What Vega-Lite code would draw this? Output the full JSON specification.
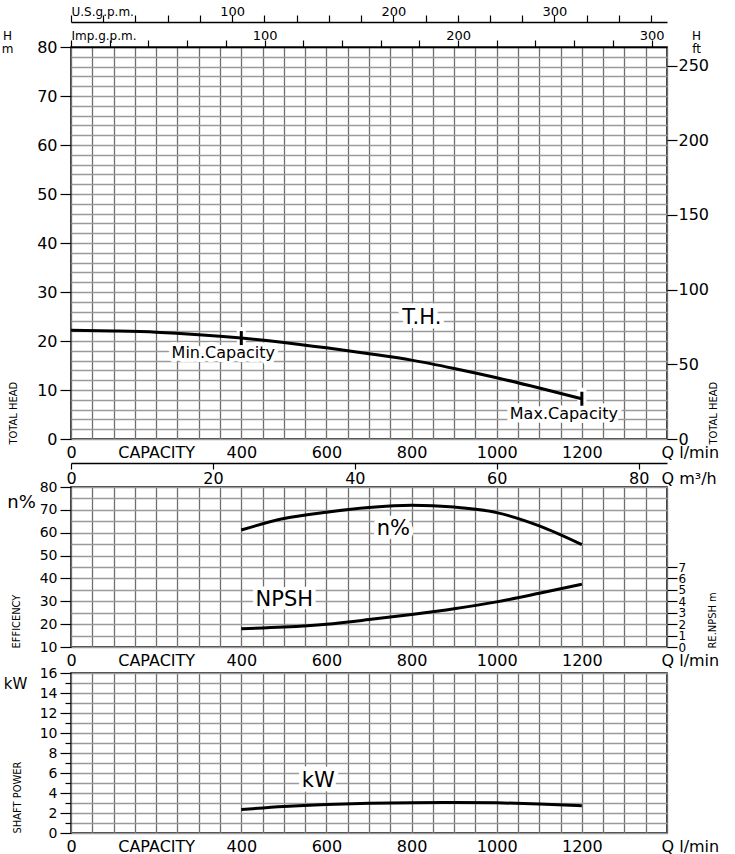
{
  "$schema": "https://vega.github.io/schema/vega-lite/v6.json",
  "padding": {"left": 0, "top": 4, "right": 0, "bottom": 0},
  "spacing": -8,
  "datasets": {
    "head": [
      {"q": 0, "h": 22.2}, {"q": 100, "h": 22.05}, {"q": 200, "h": 21.8}, {"q": 300, "h": 21.3},
      {"q": 400, "h": 20.6}, {"q": 500, "h": 19.7}, {"q": 600, "h": 18.6}, {"q": 700, "h": 17.4},
      {"q": 800, "h": 16.1}, {"q": 900, "h": 14.4}, {"q": 1000, "h": 12.5}, {"q": 1100, "h": 10.4},
      {"q": 1200, "h": 8.2}
    ],
    "perf": [
      {"q": 400, "eff": 61.2, "npsh": 1.6, "kw": 2.35},
      {"q": 500, "eff": 66.2, "npsh": 1.75, "kw": 2.65},
      {"q": 600, "eff": 69.0, "npsh": 2.0, "kw": 2.85},
      {"q": 700, "eff": 71.0, "npsh": 2.4, "kw": 2.97},
      {"q": 800, "eff": 72.0, "npsh": 2.85, "kw": 3.03},
      {"q": 900, "eff": 71.2, "npsh": 3.35, "kw": 3.06},
      {"q": 1000, "eff": 68.8, "npsh": 3.95, "kw": 3.02},
      {"q": 1100, "eff": 63.0, "npsh": 4.7, "kw": 2.9},
      {"q": 1200, "eff": 54.8, "npsh": 5.5, "kw": 2.72}
    ],
    "limits": [
      {"q": 400, "h": 20.6, "name": "Min.Capacity"},
      {"q": 1200, "h": 8.2, "name": "Max.Capacity"}
    ]
  },
  "config": {
    "view": {"stroke": "#000", "strokeWidth": 1.5},
    "font": "DejaVu Sans",
    "axis": {
      "labelFont": "DejaVu Sans", "labelFontSize": 16, "labelColor": "#000",
      "tickColor": "#000", "tickWidth": 1.2, "domainColor": "#000", "domainWidth": 1.5,
      "titleFont": "DejaVu Sans Condensed, Liberation Sans Narrow, Roboto Condensed, DejaVu Sans",
      "titleColor": "#000", "titleFontWeight": "normal", "titleFontSize": 11,
      "labelFlush": false, "labelOverlap": false, "format": "d"
    }
  },
  "vconcat": [
    {
      "width": 596, "height": 392,
      "resolve": {"axis": {"x": "independent", "y": "independent"}},
      "layer": [
        {
          "data": {"name": "head"},
          "mark": {"type": "line", "opacity": 0},
          "encoding": {
            "x": {"field": "q", "type": "quantitative", "scale": {"domain": [0, 1400], "nice": false, "zero": false},
              "axis": {"values": [0,50,100,150,200,250,300,350,400,450,500,550,600,650,700,750,800,850,900,950,1000,1050,1100,1150,1200,1250,1300,1350,1400],
                "grid": true, "gridColor": "#6e6e6e", "gridWidth": 1.3, "labels": false, "ticks": false, "domain": false, "title": null}},
            "y": {"field": "h", "type": "quantitative", "scale": {"domain": [0, 80], "nice": false, "zero": false},
              "axis": {"values": [0,2,4,6,8,10,12,14,16,18,20,22,24,26,28,30,32,34,36,38,40,42,44,46,48,50,52,54,56,58,60,62,64,66,68,70,72,74,76,78,80],
                "grid": true, "gridColor": "#9a9a9a", "gridWidth": 1.3, "labels": false, "ticks": false, "domain": false, "title": null}}
          }
        },
        {
          "data": {"name": "head"},
          "mark": {"type": "line", "opacity": 0},
          "encoding": {
            "x": {"field": "q", "type": "quantitative",
              "axis": {"orient": "bottom", "values": [0,200,400,600,800,1000,1200,1400],
                "labelExpr": "datum.value == 200 ? 'CAPACITY' : datum.value == 1400 ? 'Q  l/min' : datum.label",
                "labelAlign": {"condition": {"test": "datum.value == 1400", "value": "left"}, "value": "center"},
                "labelOffset": {"condition": {"test": "datum.value == 1400", "value": -6}, "value": 0},
                "labelPadding": 5, "ticks": false, "domain": false, "grid": false, "title": null}},
            "y": {"field": "h", "type": "quantitative",
              "axis": {"orient": "left", "values": [0,10,20,30,40,50,60,70,80], "labelPadding": 3, "ticks": true, "tickSize": 11,
                "domain": false, "grid": false, "title": "TOTAL HEAD", "titleAngle": -90, "titleAlign": "left", "titleBaseline": "middle",
                "titleX": -58, "titleY": 397}}
          }
        },
        {
          "data": {"name": "head"},
          "mark": {"type": "line", "opacity": 0},
          "encoding": {
            "x": {"field": "q", "type": "quantitative",
              "axis": {"orient": "top", "values": [0,90.922,181.844,272.765,363.687,454.609,545.531,636.453,727.374,818.296,909.218,1000.14,1091.062,1181.983,1272.905,1363.827],
                "labelExpr": "datum.value == 0 ? 'Imp.g.p.m.' : (indexof([100,200,300], round(datum.value/4.54609)) >= 0 ? format(round(datum.value/4.54609),'d') : '')",
                "labelAlign": {"condition": {"test": "datum.value == 0", "value": "left"}, "value": "center"},
                "labelFontSize": {"condition": {"test": "datum.value == 0", "value": 12}, "value": 13},
                "tickSize": 7, "labelPadding": -2, "domain": true, "grid": false, "title": null}},
            "y": {"field": "h", "type": "quantitative",
              "axis": {"orient": "right", "values": [0,15.24,30.48,45.72,60.96,76.2],
                "labelExpr": "format(datum.value*3.28084,'.0f')", "tickSize": 10, "labelPadding": 1,
                "domain": false, "grid": false, "title": "TOTAL HEAD", "titleAngle": -90, "titleAlign": "left", "titleBaseline": "middle",
                "titleX": 46, "titleY": 397}}
          }
        },
        {
          "data": {"name": "head"},
          "mark": {"type": "line", "opacity": 0},
          "encoding": {
            "x": {"field": "q", "type": "quantitative",
              "axis": {"orient": "top", "offset": 25, "values": [0,75.708,151.416,227.125,302.833,378.541,454.249,529.957,605.666,681.374,757.082,832.79,908.498,984.207,1059.915,1135.623,1211.331,1287.04,1362.748],
                "labelExpr": "datum.value == 0 ? 'U.S.g.p.m.' : (indexof([100,200,300], round(datum.value/3.78541)) >= 0 ? format(round(datum.value/3.78541),'d') : '')",
                "labelAlign": {"condition": {"test": "datum.value == 0", "value": "left"}, "value": "center"},
                "labelFontSize": {"condition": {"test": "datum.value == 0", "value": 12}, "value": 13},
                "tickSize": 7, "labelPadding": -3, "domain": true, "grid": false, "title": null}},
            "y": {"field": "h", "type": "quantitative",
              "axis": {"orient": "left", "labels": false, "ticks": false, "domain": false, "grid": false,
                "title": ["H", "m"], "titleFont": "DejaVu Sans", "titleFontSize": 12, "titleAngle": 0, "titleAlign": "center",
                "titleBaseline": "top", "titleX": -64, "titleY": -17, "titleLineHeight": 13}}
          }
        },
        {
          "data": {"name": "head"},
          "mark": {"type": "line", "opacity": 0},
          "encoding": {
            "x": {"field": "q", "type": "quantitative",
              "axis": {"orient": "bottom", "offset": 24, "values": [0,333.3333,666.6667,1000,1333.3333,1400],
                "labelExpr": "datum.value == 1400 ? 'Q  m³/h' : format(datum.value*0.06,'.0f')",
                "labelAlign": {"condition": {"test": "datum.value == 1400", "value": "left"}, "value": "center"},
                "labelOffset": {"condition": {"test": "datum.value == 1400", "value": -6}, "value": 0},
                "tickOpacity": {"condition": {"test": "datum.value == 1400", "value": 0}, "value": 1},
                "tickSize": 6, "labelPadding": 1, "domain": true, "grid": false, "title": null}},
            "y": {"field": "h", "type": "quantitative",
              "axis": {"orient": "right", "labels": false, "ticks": false, "domain": false, "grid": false,
                "title": ["H", "ft"], "titleFont": "DejaVu Sans", "titleFontSize": 12, "titleAngle": 0, "titleAlign": "center",
                "titleBaseline": "top", "titleX": 29, "titleY": -17, "titleLineHeight": 13}}
          }
        },
        {
          "data": {"name": "limits"},
          "mark": {"type": "tick", "orient": "vertical", "color": "white", "thickness": 9, "size": 22, "opacity": 1},
          "encoding": {
            "x": {"field": "q", "type": "quantitative", "axis": null},
            "y": {"field": "h", "type": "quantitative", "axis": null}
          }
        },
        {
          "data": {"name": "limits"},
          "mark": {"type": "text", "fontSize": 16, "font": "DejaVu Sans", "fill": "white", "stroke": "white", "strokeWidth": 8, "strokeJoin": "round", "dx": -18, "dy": 15},
          "encoding": {
            "x": {"field": "q", "type": "quantitative", "axis": null},
            "y": {"field": "h", "type": "quantitative", "axis": null},
            "text": {"field": "name"}
          }
        },
        {
          "data": {"values": [{"q": 824, "h": 24.7, "t": "T.H."}]},
          "mark": {"type": "text", "fontSize": 21, "font": "DejaVu Sans", "fill": "white", "stroke": "white", "strokeWidth": 9, "strokeJoin": "round"},
          "encoding": {
            "x": {"field": "q", "type": "quantitative", "axis": null},
            "y": {"field": "h", "type": "quantitative", "axis": null},
            "text": {"field": "t"}
          }
        },
        {
          "data": {"name": "head"},
          "mark": {"type": "line", "color": "#000", "strokeWidth": 3, "interpolate": "monotone"},
          "encoding": {
            "x": {"field": "q", "type": "quantitative", "axis": null},
            "y": {"field": "h", "type": "quantitative", "axis": null}
          }
        },
        {
          "data": {"name": "limits"},
          "mark": {"type": "tick", "orient": "vertical", "color": "#000", "thickness": 3, "size": 14, "opacity": 1},
          "encoding": {
            "x": {"field": "q", "type": "quantitative", "axis": null},
            "y": {"field": "h", "type": "quantitative", "axis": null}
          }
        },
        {
          "data": {"name": "limits"},
          "mark": {"type": "text", "fontSize": 16, "font": "DejaVu Sans", "fill": "#000", "dx": -18, "dy": 15},
          "encoding": {
            "x": {"field": "q", "type": "quantitative", "axis": null},
            "y": {"field": "h", "type": "quantitative", "axis": null},
            "text": {"field": "name"}
          }
        },
        {
          "data": {"values": [{"q": 824, "h": 24.7, "t": "T.H."}]},
          "mark": {"type": "text", "fontSize": 21, "font": "DejaVu Sans", "fill": "#000"},
          "encoding": {
            "x": {"field": "q", "type": "quantitative", "axis": null},
            "y": {"field": "h", "type": "quantitative", "axis": null},
            "text": {"field": "t"}
          }
        }
      ]
    },
    {
      "width": 596, "height": 160,
      "resolve": {"scale": {"y": "independent"}, "axis": {"x": "independent", "y": "independent"}},
      "layer": [
        {
          "data": {"name": "perf"},
          "mark": {"type": "line", "opacity": 0},
          "encoding": {
            "x": {"field": "q", "type": "quantitative", "scale": {"domain": [0, 1400], "nice": false, "zero": false},
              "axis": {"values": [0,50,100,150,200,250,300,350,400,450,500,550,600,650,700,750,800,850,900,950,1000,1050,1100,1150,1200,1250,1300,1350,1400],
                "grid": true, "gridColor": "#6e6e6e", "gridWidth": 1.3, "labels": false, "ticks": false, "domain": false, "title": null}},
            "y": {"field": "eff", "type": "quantitative", "scale": {"domain": [10, 80], "nice": false, "zero": false},
              "axis": {"values": [10,15,20,25,30,35,40,45,50,55,60,65,70,75,80],
                "grid": true, "gridColor": "#9a9a9a", "gridWidth": 1.3, "labels": false, "ticks": false, "domain": false, "title": null}}
          }
        },
        {
          "data": {"name": "perf"},
          "mark": {"type": "line", "opacity": 0},
          "encoding": {
            "x": {"field": "q", "type": "quantitative",
              "axis": {"orient": "bottom", "values": [0,200,400,600,800,1000,1200,1400],
                "labelExpr": "datum.value == 200 ? 'CAPACITY' : datum.value == 1400 ? 'Q  l/min' : datum.label",
                "labelAlign": {"condition": {"test": "datum.value == 1400", "value": "left"}, "value": "center"},
                "labelOffset": {"condition": {"test": "datum.value == 1400", "value": -6}, "value": 0},
                "labelPadding": 5, "ticks": false, "domain": false, "grid": false, "title": null}},
            "y": {"field": "eff", "type": "quantitative", "scale": {"domain": [10, 80], "nice": false, "zero": false},
              "axis": {"orient": "left", "values": [10,20,30,40,50,60,70,80], "labelFontSize": 14, "labelPadding": 3, "ticks": true, "tickSize": 11,
                "domain": false, "grid": false, "title": "EFFICENCY", "titleAngle": -90, "titleAlign": "left", "titleBaseline": "middle",
                "titleX": -55, "titleY": 161}}
          }
        },
        {
          "data": {"name": "perf"},
          "mark": {"type": "line", "color": "#000", "strokeWidth": 3, "interpolate": "monotone"},
          "encoding": {
            "x": {"field": "q", "type": "quantitative", "axis": null},
            "y": {"field": "npsh", "type": "quantitative", "scale": {"domain": [0, 14], "nice": false, "zero": false},
              "axis": {"orient": "right", "values": [0,1,2,3,4,5,6,7], "labelFontSize": 12, "tickSize": 10, "labelPadding": 1,
                "domain": false, "grid": false, "title": "RE.NPSH m", "titleAngle": -90, "titleAlign": "left", "titleBaseline": "middle",
                "titleX": 45, "titleY": 161}}
          }
        },
        {
          "data": {"values": [{"q": 757, "eff": 61.6, "t": "n%"}, {"q": 501, "eff": 30.6, "t": "NPSH"}]},
          "mark": {"type": "text", "fontSize": 21, "font": "DejaVu Sans", "fill": "white", "stroke": "white", "strokeWidth": 9, "strokeJoin": "round"},
          "encoding": {
            "x": {"field": "q", "type": "quantitative", "axis": null},
            "y": {"field": "eff", "type": "quantitative", "scale": {"domain": [10, 80], "nice": false, "zero": false}, "axis": null},
            "text": {"field": "t"}
          }
        },
        {
          "data": {"name": "perf"},
          "mark": {"type": "line", "color": "#000", "strokeWidth": 3, "interpolate": "monotone"},
          "encoding": {
            "x": {"field": "q", "type": "quantitative", "axis": null},
            "y": {"field": "eff", "type": "quantitative", "scale": {"domain": [10, 80], "nice": false, "zero": false},
              "axis": {"orient": "left", "labels": false, "ticks": false, "domain": false, "grid": false,
                "title": "n%", "titleFont": "DejaVu Sans", "titleFontSize": 18, "titleAngle": 0, "titleAlign": "center",
                "titleBaseline": "middle", "titleX": -50, "titleY": 15}}
          }
        },
        {
          "data": {"values": [{"q": 757, "eff": 61.6, "t": "n%"}, {"q": 501, "eff": 30.6, "t": "NPSH"}]},
          "mark": {"type": "text", "fontSize": 21, "font": "DejaVu Sans", "fill": "#000"},
          "encoding": {
            "x": {"field": "q", "type": "quantitative", "axis": null},
            "y": {"field": "eff", "type": "quantitative", "scale": {"domain": [10, 80], "nice": false, "zero": false}, "axis": null},
            "text": {"field": "t"}
          }
        }
      ]
    },
    {
      "width": 596, "height": 160,
      "resolve": {"axis": {"x": "independent", "y": "independent"}},
      "layer": [
        {
          "data": {"name": "perf"},
          "mark": {"type": "line", "opacity": 0},
          "encoding": {
            "x": {"field": "q", "type": "quantitative", "scale": {"domain": [0, 1400], "nice": false, "zero": false},
              "axis": {"values": [0,50,100,150,200,250,300,350,400,450,500,550,600,650,700,750,800,850,900,950,1000,1050,1100,1150,1200,1250,1300,1350,1400],
                "grid": true, "gridColor": "#6e6e6e", "gridWidth": 1.3, "labels": false, "ticks": false, "domain": false, "title": null}},
            "y": {"field": "kw", "type": "quantitative", "scale": {"domain": [0, 16], "nice": false, "zero": false},
              "axis": {"values": [0,1,2,3,4,5,6,7,8,9,10,11,12,13,14,15,16],
                "grid": true, "gridColor": "#9a9a9a", "gridWidth": 1.3, "labels": false, "ticks": false, "domain": false, "title": null}}
          }
        },
        {
          "data": {"name": "perf"},
          "mark": {"type": "line", "opacity": 0},
          "encoding": {
            "x": {"field": "q", "type": "quantitative",
              "axis": {"orient": "bottom", "values": [0,200,400,600,800,1000,1200,1400],
                "labelExpr": "datum.value == 200 ? 'CAPACITY' : datum.value == 1400 ? 'Q  l/min' : datum.label",
                "labelAlign": {"condition": {"test": "datum.value == 1400", "value": "left"}, "value": "center"},
                "labelOffset": {"condition": {"test": "datum.value == 1400", "value": -6}, "value": 0},
                "labelPadding": 5, "ticks": false, "domain": false, "grid": false, "title": null}},
            "y": {"field": "kw", "type": "quantitative",
              "axis": {"orient": "left", "values": [0,1,2,3,4,5,6,7,8,9,10,11,12,13,14,15,16],
                "labelExpr": "datum.value % 2 == 0 ? datum.label : ''", "labelFontSize": 14,
                "tickSize": {"condition": {"test": "datum.value % 2 == 0", "value": 11}, "value": 6},
                "labelPadding": 3, "ticks": true, "domain": false, "grid": false, "title": "SHAFT POWER", "titleAngle": -90,
                "titleAlign": "left", "titleBaseline": "middle", "titleX": -54, "titleY": 160}}
          }
        },
        {
          "data": {"values": [{"q": 581, "kw": 5.2, "t": "kW"}]},
          "mark": {"type": "text", "fontSize": 21, "font": "DejaVu Sans", "fill": "white", "stroke": "white", "strokeWidth": 9, "strokeJoin": "round"},
          "encoding": {
            "x": {"field": "q", "type": "quantitative",
              "axis": {"orient": "top", "labels": false, "ticks": false, "domain": false, "grid": false,
                "title": "kW", "titleOpacity": 0, "titleFontSize": 10, "titleBaseline": "top", "titleAlign": "center", "titleX": 300, "titleY": -10.5}},
            "y": {"field": "kw", "type": "quantitative", "axis": null},
            "text": {"field": "t"}
          }
        },
        {
          "data": {"name": "perf"},
          "mark": {"type": "line", "color": "#000", "strokeWidth": 3, "interpolate": "monotone"},
          "encoding": {
            "x": {"field": "q", "type": "quantitative", "axis": null},
            "y": {"field": "kw", "type": "quantitative",
              "axis": {"orient": "left", "labels": false, "ticks": false, "domain": false, "grid": false,
                "title": "kW", "titleFont": "DejaVu Sans", "titleFontSize": 15, "titleAngle": 0, "titleAlign": "center",
                "titleBaseline": "middle", "titleX": -56, "titleY": 10}}
          }
        },
        {
          "data": {"values": [{"q": 581, "kw": 5.2, "t": "kW"}]},
          "mark": {"type": "text", "fontSize": 21, "font": "DejaVu Sans", "fill": "#000"},
          "encoding": {
            "x": {"field": "q", "type": "quantitative", "axis": null},
            "y": {"field": "kw", "type": "quantitative", "axis": null},
            "text": {"field": "t"}
          }
        }
      ]
    }
  ]
}
